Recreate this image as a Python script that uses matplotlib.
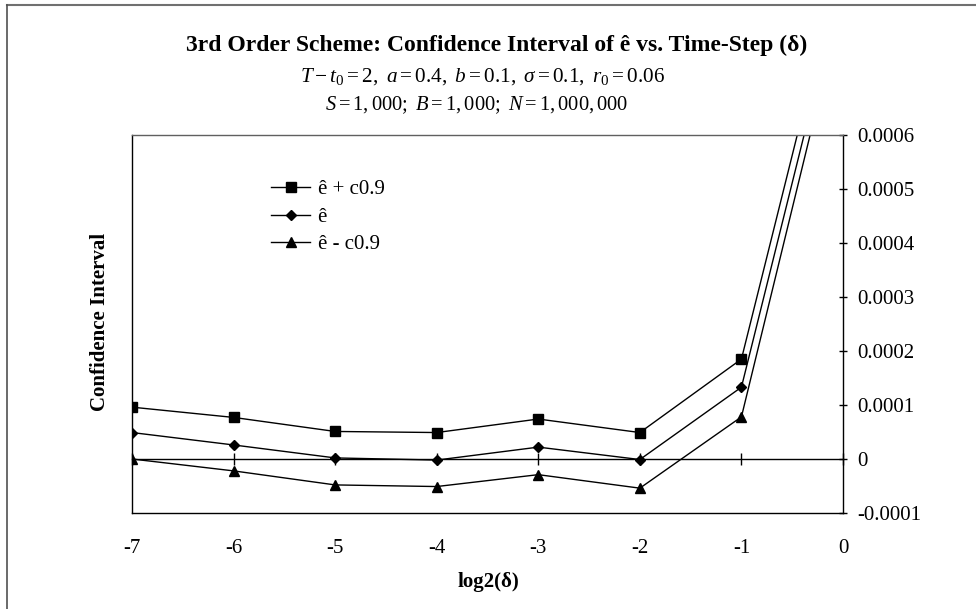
import numpy as np
import matplotlib
matplotlib.use("Agg")
import matplotlib.pyplot as plt
from matplotlib.lines import Line2D
from matplotlib.ticker import FuncFormatter

plt.rcParams['font.family'] = ['Liberation Serif', 'DejaVu Serif']
plt.rcParams['mathtext.fontset'] = 'custom'
plt.rcParams['mathtext.rm'] = 'Liberation Serif'
plt.rcParams['mathtext.it'] = 'Liberation Serif:italic'
plt.rcParams['axes.unicode_minus'] = False

# data --------------------------------------------------------------------------
log2_delta = [-7, -6, -5, -4, -3, -2, -1, 0]
e_plus_c  = [0.96e-4, 0.77e-4, 0.51e-4, 0.49e-4, 0.74e-4, 0.49e-4, 1.85e-4, 9.4e-4]
e_hat     = [0.49e-4, 0.26e-4, 0.02e-4, -0.02e-4, 0.22e-4, -0.01e-4, 1.33e-4, 8.9e-4]
e_minus_c = [0.0e-4, -0.22e-4, -0.48e-4, -0.51e-4, -0.29e-4, -0.54e-4, 0.78e-4, 8.5e-4]

x_ticks = [-7, -6, -5, -4, -3, -2, -1, 0]
y_ticks = [-0.0001, 0, 0.0001, 0.0002, 0.0003, 0.0004, 0.0005, 0.0006]

fig = plt.figure(figsize=(9.76, 6.09), dpi=100)
W, H = 976, 609

# outer chart border (only top and left edges are inside the crop)
fig.add_artist(Line2D([7 / W, 1.0], [1 - 5 / H, 1 - 5 / H], transform=fig.transFigure,
                      color='#707070', lw=1.5))
fig.add_artist(Line2D([7 / W, 7 / W], [0.0, 1 - 5 / H], transform=fig.transFigure,
                      color='#505050', lw=1.2))

ax = fig.add_axes([132 / W, 1 - 513 / H, (843 - 132) / W, (513 - 135) / H])

ax.plot(log2_delta, e_plus_c, color='black', lw=1.0, marker='s', ms=7, label='ê + c0.9')
ax.plot(log2_delta, e_hat, color='black', lw=1.0, marker='D', ms=5.5, label='ê')
ax.plot(log2_delta, e_minus_c, color='black', lw=1.0, marker='^', ms=7.5, label='ê - c0.9')

ax.set_xlim(-7, 0)
ax.set_ylim(-0.0001, 0.0006)

# y axis on the right
ax.yaxis.tick_right()
ax.set_yticks(y_ticks)
ax.yaxis.set_major_formatter(FuncFormatter(lambda v, p: "0" if abs(v) < 1e-12 else f"{v:.4f}"))
ax.tick_params(axis='y', direction='inout', length=6, width=1, pad=7, labelsize=15)

# x axis crosses at zero, labels sit below the plot area
ax.spines['bottom'].set_position(('data', 0))
ax.set_xticks(x_ticks)
ax.tick_params(axis='x', direction='inout', length=9, width=1, labelbottom=False)

sec = ax.secondary_xaxis('bottom')
sec.set_xticks(x_ticks)
sec.set_xticklabels([str(t) for t in x_ticks])
sec.tick_params(axis='x', length=0, pad=19, labelsize=15)

for s in ['left', 'right', 'bottom']:
    ax.spines[s].set_color('black')
    ax.spines[s].set_linewidth(1.0)
ax.spines['top'].set_color('#606060')
ax.spines['top'].set_linewidth(1.0)
sec.spines['bottom'].set_color('black')
sec.spines['bottom'].set_linewidth(1.0)

ax.legend(loc='upper left', bbox_to_anchor=(252 / W, 1 - 161 / H), bbox_transform=fig.transFigure,
          frameon=False, fontsize=15, handlelength=1.9, handletextpad=0.35, labelspacing=0.38)

# titles and axis labels
fig.text(497 / W, 1 - 45 / H, '3rd Order Scheme: Confidence Interval of ê vs. Time-Step (δ)',
         ha='center', va='center', fontsize=17, fontweight='bold')
fig.text(483 / W, 1 - 77 / H,
         r'$T - t_0 = 2,\ a = 0.4,\ b = 0.1,\ \sigma = 0.1,\ r_0 = 0.06$',
         ha='center', va='center', fontsize=15.3)
fig.text(477 / W, 1 - 105 / H, r'$S = 1,000;\ B = 1,000;\ N = 1,000,000$',
         ha='center', va='center', fontsize=14.8)
fig.text(100 / W, 1 - 322 / H, 'Confidence Interval', rotation=90,
         ha='center', va='center', fontsize=15, fontweight='bold')
fig.text(488 / W, 1 - 582 / H, 'log2(δ)', ha='center', va='center',
         fontsize=15, fontweight='bold')

fig.savefig('out.png', dpi=100)
